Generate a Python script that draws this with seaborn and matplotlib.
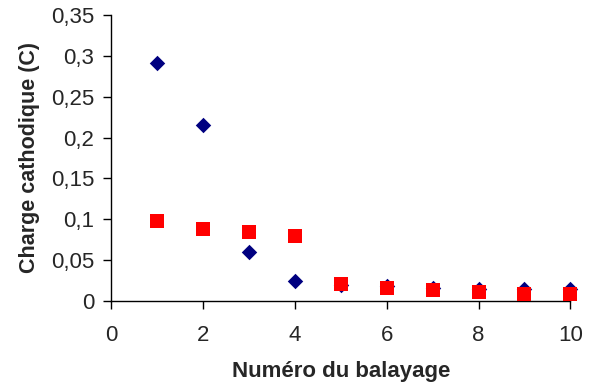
import matplotlib
matplotlib.use("Agg")
import matplotlib.pyplot as plt
import seaborn as sns
import pandas as pd

# data
scan = [1, 2, 3, 4, 5, 6, 7, 8, 9, 10]
charge_blue = [0.291, 0.215, 0.060, 0.025, 0.020, 0.018, 0.016, 0.015, 0.015, 0.015]
charge_red = [0.098, 0.088, 0.084, 0.079, 0.021, 0.016, 0.013, 0.011, 0.009, 0.009]

y_ticks = [0, 0.05, 0.1, 0.15, 0.2, 0.25, 0.3, 0.35]
y_ticklabels = ["0", "0,05", "0,1", "0,15", "0,2", "0,25", "0,3", "0,35"]
x_ticks = [0, 2, 4, 6, 8, 10]

sns.set_style("ticks")
plt.rcParams["font.family"] = ["Liberation Sans", "DejaVu Sans"]

df_blue = pd.DataFrame({"scan": scan, "charge": charge_blue})
df_red = pd.DataFrame({"scan": scan, "charge": charge_red})

fig = plt.figure(figsize=(5.92, 3.83), dpi=100)
ax = fig.add_axes([0.1875, 0.214, 0.776, 0.747])

sns.scatterplot(data=df_blue, x="scan", y="charge", marker="D", s=62,
                color="#000080", linewidth=0, ax=ax, zorder=3)
sns.scatterplot(data=df_red, x="scan", y="charge", marker="s", s=95,
                color="#FF0000", linewidth=0, ax=ax, zorder=4)

ax.set_xlim(0, 10)
ax.set_ylim(0, 0.35)
ax.set_xticks(x_ticks)
ax.set_yticks(y_ticks)
ax.set_yticklabels(y_ticklabels)
ax.tick_params(axis="both", labelsize=16, length=6, width=1, color="black")
ax.tick_params(axis="x", pad=11)
ax.tick_params(axis="y", pad=6)
ax.set_xlabel("Numéro du balayage", fontsize=16, fontweight="bold", labelpad=11)
ax.set_ylabel("Charge cathodique (C)", fontsize=15.5, fontweight="bold", labelpad=8)
for side in ["left", "bottom"]:
    ax.spines[side].set_color("black")
    ax.spines[side].set_linewidth(1)
sns.despine(ax=ax)
for c in ax.collections:
    c.set_clip_on(False)

fig.savefig("out.png", dpi=100, facecolor="white")
